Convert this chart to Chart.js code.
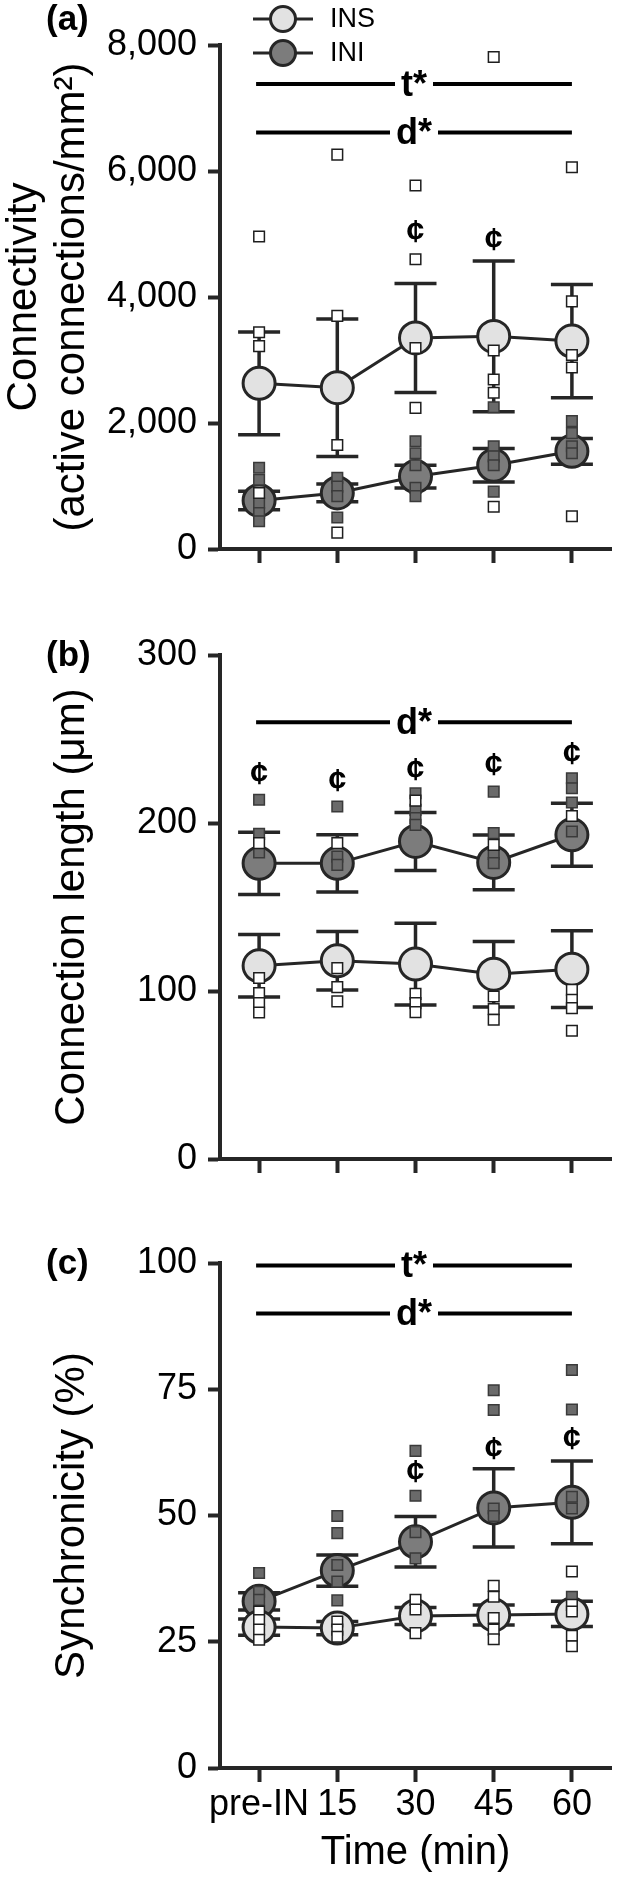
<!DOCTYPE html>
<html>
<head>
<meta charset="utf-8">
<script src="https://cdn.jsdelivr.net/npm/chart.js@4.4.0/dist/chart.umd.min.js"></script>
<style>
  html, body { margin: 0; padding: 0; background: #fff; }
  #wrap { position: relative; width: 630px; height: 1883px; }
  canvas { position: absolute; left: 0; }
</style>
</head>
<body>
<div id="wrap">
  <canvas id="chartA" width="630" height="600" style="top:0"></canvas>
  <canvas id="chartB" width="630" height="600" style="top:600px"></canvas>
  <canvas id="chartC" width="630" height="683" style="top:1200px"></canvas>
</div>
<script>
const timeLabels = ['pre-IN', '15', '30', '45', '60'];
const seriesNames = ['INS', 'INI'];

// (a) connectivity
const insMeanA = [2630, 2560, 3350, 3375, 3300];
const insErrA = [815, 1090, 865, 1195, 900];
const iniMeanA = [770, 890, 1150, 1330, 1550];
const iniErrA = [145, 140, 180, 265, 205];
const insPtsA = [[4960, 3440, 3220, 890], [6260, 3700, 1650, 260], [5770, 4600, 3190, 2240], [7810, 3150, 2690, 2480, 670], [6060, 3930, 3080, 2880, 520]];
const iniPtsA = [[1290, 1100, 730, 570, 440], [1130, 990, 840, 500], [1710, 1520, 1330, 970, 840], [2250, 1630, 1470, 1330, 910], [2030, 1840, 1630, 1520]];
const sigA = [['t*', 7380], ['d*', 6610]];
const centA = [null, null, 5020, 4880, null];

// (b) connection length
const insMeanB = [115, 118, 116, 110, 113];
const insErrB = [18.6, 17.4, 24.3, 19.5, 22.8];
const iniMeanB = [176, 176, 189, 176.5, 193];
const iniErrB = [18.5, 17, 17.3, 16.3, 18.7];
const insPtsB = [[188, 107.7, 98.8, 92.8, 87.2], [188, 113.6, 102.3, 93.8], [213.3, 98.3, 92.8, 87.4], [187, 96.7, 89.2, 82.9], [204.2, 100.7, 94.8, 89.8, 76.3]];
const iniPtsB = [[213.8, 193.5, 182.4], [209.8, 180, 175.1], [217.7, 207.8, 202.9, 198.9], [218.7, 194, 181.6, 176.1], [226.6, 220.7, 212.2, 194.9]];
const sigB = [['d*', 260]];
const centB = [228.6, 224.6, 230.6, 233.6, 240.5];

// (c) synchronicity
const insMeanC = [27.9, 27.7, 30.1, 30.3, 30.5];
const insErrC = [1.6, 1.3, 1.7, 2.0, 2.5];
const iniMeanC = [33, 39.1, 44.8, 51.5, 52.6];
const iniErrC = [1.7, 3.1, 5.0, 7.75, 8.2];
const insPtsC = [[31, 29.3, 27.4, 25.4], [29, 27.4, 26], [33.3, 31.4, 26.7], [36.1, 33.9, 29.7, 27.4, 25.5], [38.9, 32.3, 31, 26.2, 24.1]];
const iniPtsC = [[38.6, 34.9, 33.3], [49.9, 46.5, 40.2, 36.9, 33.2], [62.8, 53.9, 46.7, 41.5], [74.8, 70.9, 51.4, 49.9], [78.8, 71, 53.7, 51.4, 33.9]];
const sigC = [['t*', 99.5], ['d*', 90]];
const centC = [null, null, 58.3, 63, 64.9];

const ink = '#262626';
const insFill = '#e2e2e2';
const iniFill = '#7c7c7c';
const FONT = '"Liberation Sans", Arial, sans-serif';
Chart.defaults.font.family = FONT;
Chart.defaults.color = '#000';

const errorBars = {
  id: 'errorBars',
  beforeDatasetsDraw(chart) {
    const ctx = chart.ctx, yS = chart.scales.y;
    chart.data.datasets.forEach((ds, di) => {
      if (!ds.errors) return;
      const meta = chart.getDatasetMeta(di);
      ctx.save();
      ctx.strokeStyle = ink;
      ctx.lineWidth = 3.5;
      meta.data.forEach((pt, i) => {
        const m = ds.data[i], e = ds.errors[i];
        const y1 = yS.getPixelForValue(m + e), y2 = yS.getPixelForValue(m - e);
        ctx.beginPath();
        ctx.moveTo(pt.x, y1); ctx.lineTo(pt.x, y2);
        ctx.moveTo(pt.x - 21, y1); ctx.lineTo(pt.x + 21, y1);
        ctx.moveTo(pt.x - 21, y2); ctx.lineTo(pt.x + 21, y2);
        ctx.stroke();
      });
      ctx.restore();
    });
  }
};

const marks = {
  id: 'marks',
  afterDraw(chart, args, opts) {
    const ctx = chart.ctx, xS = chart.scales.x, yS = chart.scales.y;
    ctx.save();
    ctx.fillStyle = '#000';
    ctx.strokeStyle = '#000';
    ctx.textBaseline = 'middle';
    ctx.textAlign = 'center';
    (opts.sig || []).forEach(([txt, v]) => {
      const y = yS.getPixelForValue(v);
      const x0 = xS.getPixelForValue(0) - 3, x1 = xS.getPixelForValue(timeLabels.length - 1);
      const xm = (x0 + x1) / 2;
      ctx.font = 'bold 36px ' + FONT;
      const hw = ctx.measureText(txt).width / 2 + 6;
      ctx.lineWidth = 4;
      ctx.beginPath();
      ctx.moveTo(x0, y); ctx.lineTo(xm - hw, y);
      ctx.moveTo(xm + hw, y); ctx.lineTo(x1, y);
      ctx.stroke();
      ctx.fillText(txt, xm, y + 2);
    });
    ctx.font = 'bold 32px ' + FONT;
    (opts.cent || []).forEach((v, i) => {
      if (v == null) return;
      ctx.fillText('\u00a2', xS.getPixelForValue(i), yS.getPixelForValue(v));
    });
    if (opts.panel) {
      ctx.textAlign = 'left';
      ctx.font = 'bold 35px ' + FONT;
      ctx.fillText(opts.panel[0], 46, opts.panel[1]);
    }
    if (opts.legend) {
      seriesNames.forEach((name, i) => {
        const y = 19 + i * 34;
        ctx.strokeStyle = ink;
        ctx.lineWidth = 3;
        ctx.beginPath(); ctx.moveTo(253, y); ctx.lineTo(313, y); ctx.stroke();
        ctx.beginPath(); ctx.arc(283, y, 12.5, 0, Math.PI * 2);
        ctx.fillStyle = i === 0 ? insFill : iniFill;
        ctx.fill(); ctx.stroke();
        ctx.fillStyle = '#000';
        ctx.font = '27px ' + FONT;
        ctx.textAlign = 'left';
        ctx.fillText(name, 330, y + 1);
      });
    }
    ctx.restore();
  }
};

function pts(groups) {
  return groups.flatMap((g, i) => g.map(v => ({ x: timeLabels[i], y: v })));
}

function makeChart(id, cfg) {
  const datasets = [
    { label: 'INS pts', data: pts(cfg.insPts), showLine: false, pointStyle: 'rect', pointRadius: 7.5,
      pointBackgroundColor: '#fff', pointBorderColor: '#1e1e1e', pointBorderWidth: 1.5, order: 0 },
    { label: 'INI pts', data: pts(cfg.iniPts), showLine: false, pointStyle: 'rect', pointRadius: 7.5,
      pointBackgroundColor: '#6a6a6a', pointBorderColor: '#3a3a3a', pointBorderWidth: 1.5, order: 1 },
    { label: seriesNames[0], data: cfg.insMean, errors: cfg.insErr, borderColor: ink, borderWidth: 3,
      pointRadius: 16, pointBorderWidth: 3, pointBackgroundColor: insFill, pointBorderColor: ink, order: 2 },
    { label: seriesNames[1], data: cfg.iniMean, errors: cfg.iniErr, borderColor: ink, borderWidth: 3,
      pointRadius: 16, pointBorderWidth: 3, pointBackgroundColor: iniFill, pointBorderColor: ink, order: 3 }
  ];
  return new Chart(document.getElementById(id), {
    type: 'line',
    data: { labels: timeLabels, datasets },
    plugins: [errorBars, marks],
    options: {
      responsive: false,
      animation: false,
      devicePixelRatio: 1,
      layout: { padding: { top: cfg.top, right: 4, left: 0, bottom: 0 } },
      plugins: {
        legend: { display: false },
        tooltip: { enabled: false },
        marks: { sig: cfg.sig, cent: cfg.cent, panel: cfg.panel, legend: cfg.legend }
      },
      scales: {
        x: {
          type: 'category',
          offset: true,
          ticks: { display: cfg.xLabels, padding: 1, autoSkip: false, maxRotation: 0, minRotation: 0,
                   font: { size: 36 }, color: '#000' },
          grid: { drawOnChartArea: false, tickLength: 14, tickWidth: 4, tickColor: ink },
          border: { color: ink, width: 4 },
          title: { display: !!cfg.xTitle, text: cfg.xTitle, font: { size: 40 }, padding: { top: 0, bottom: 6 }, color: '#000' },
          afterFit: s => { s.height = cfg.xHeight; }
        },
        y: {
          min: 0, max: cfg.max,
          ticks: { stepSize: cfg.step, padding: 11, font: { size: 36 }, color: '#000',
                   callback: v => v.toLocaleString('en-US') },
          grid: { drawOnChartArea: false, tickLength: 12, tickWidth: 4, tickColor: ink },
          border: { color: ink, width: 4 },
          title: { display: true, text: cfg.yTitle, font: { size: 42, lineHeight: 1.15 },
                   padding: { top: cfg.yTitlePad, bottom: 0 }, color: '#000' },
          afterFit: s => { s.width = 220; }
        }
      }
    }
  });
}

makeChart('chartA', {
  insMean: insMeanA, insErr: insErrA, iniMean: iniMeanA, iniErr: iniErrA,
  insPts: insPtsA, iniPts: iniPtsA, sig: sigA, cent: centA,
  max: 8000, step: 2000, top: 45, xHeight: 51, xLabels: false,
  yTitle: ['Connectivity', '(active connections/mm\u00b2)'], yTitlePad: 0,
  panel: ['(a)', 20], legend: true
});

makeChart('chartB', {
  insMean: insMeanB, insErr: insErrB, iniMean: iniMeanB, iniErr: iniErrB,
  insPts: insPtsB, iniPts: iniPtsB, sig: sigB, cent: centB,
  max: 300, step: 100, top: 55, xHeight: 41, xLabels: false,
  yTitle: 'Connection length (\u03bcm)', yTitlePad: 48,
  panel: ['(b)', 56], legend: false
});

makeChart('chartC', {
  insMean: insMeanC, insErr: insErrC, iniMean: iniMeanC, iniErr: iniErrC,
  insPts: insPtsC, iniPts: iniPtsC, sig: sigC, cent: centC,
  max: 100, step: 25, top: 63, xHeight: 115, xLabels: true, xTitle: 'Time (min)',
  yTitle: 'Synchronicity (%)', yTitlePad: 48,
  panel: ['(c)', 64], legend: false
});
</script>
</body>
</html>
